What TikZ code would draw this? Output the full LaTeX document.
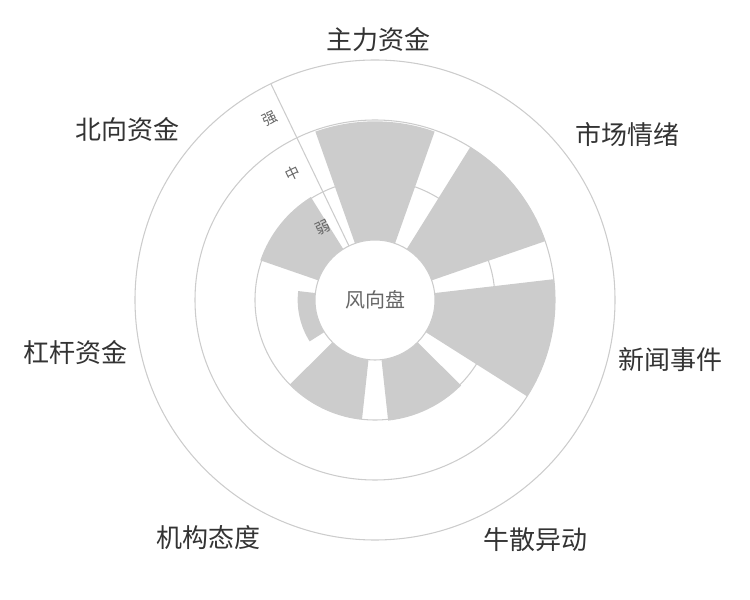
\documentclass[tikz,border=0pt]{standalone}
\usepackage{fontspec}
\setmainfont{Noto Sans CJK SC}
\begin{document}
\begin{tikzpicture}[x=0.75pt,y=0.75pt,
  ring/.style={draw=black!20, line width=0.8pt},
  bar/.style={fill=black!20},
  cat/.style={text=black!80, font=\fontsize{19.5}{22}\selectfont},
  lvl/.style={text=black!60, font=\fontsize{11}{13}\selectfont, rotate=25.7}]
\useasboundingbox (0,0) rectangle (750,600);
\coordinate (c) at (375,300);
\begin{scope}[shift={(c)}]
\foreach \r in {90pt,135pt,180pt}{\draw[ring] (0,0) circle[radius=\r];}
\foreach \a/\R in {90/134pt, 38.571/135pt, -12.857/135pt, -64.286/91pt, -115.714/90pt, -167.143/58pt, 141.429/91pt}{
  \fill[bar] (\a-19.5:45pt) -- (\a-19.5:\R) arc[start angle=\a-19.5, end angle=\a+19.5, radius=\R] -- (\a+19.5:45pt) arc[start angle=\a+19.5, end angle=\a-19.5, radius=45pt] -- cycle;
}
\draw[ring] (115.714:45pt) -- (115.714:180pt);
\node[ring, fill=white, circle, minimum size=90pt, inner sep=0pt, text=black!60, font=\fontsize{15}{17}\selectfont] (hub) at (0,0) {风向盘};
\node[lvl] (qiang) at (120:157pt) {强};
\node[lvl] (zhong) at (123:113pt) {中};
\node[lvl] (ruo) at (126:67pt) {弱};
\end{scope}
\node[cat] (zl) at (378,560) {主力资金};
\node[cat] (sc) at (627,465) {市场情绪};
\node[cat] (xw) at (670,240) {新闻事件};
\node[cat] (ns) at (535,60) {牛散异动};
\node[cat] (jg) at (208,62) {机构态度};
\node[cat] (gg) at (75,247) {杠杆资金};
\node[cat] (bx) at (127,470) {北向资金};
\end{tikzpicture}
\end{document}
